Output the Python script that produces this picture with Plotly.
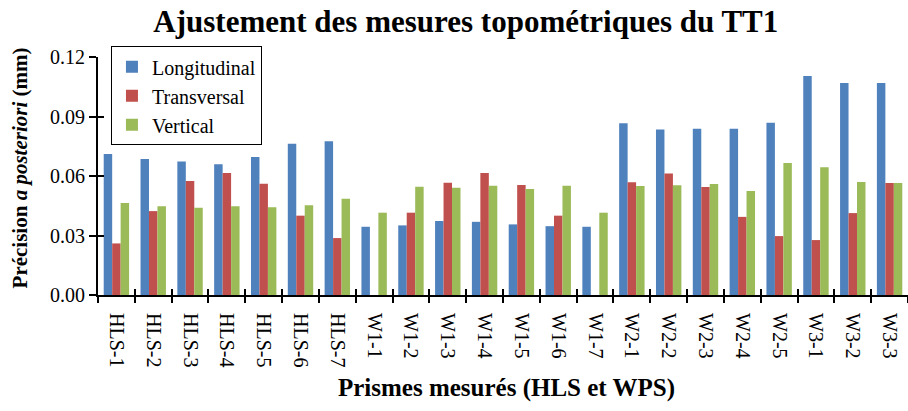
import plotly.graph_objects as go

# Prismes mesurés
categories = ["HLS-1", "HLS-2", "HLS-3", "HLS-4", "HLS-5", "HLS-6", "HLS-7",
              "W1-1", "W1-2", "W1-3", "W1-4", "W1-5", "W1-6", "W1-7",
              "W2-1", "W2-2", "W2-3", "W2-4", "W2-5",
              "W3-1", "W3-2", "W3-3"]

# Précision a posteriori (mm)
longitudinal = [0.0711, 0.0686, 0.0673, 0.0659, 0.0696, 0.0762, 0.0775,
                0.0344, 0.0351, 0.0373, 0.0369, 0.0356, 0.0347, 0.0344,
                0.0866, 0.0834, 0.0838, 0.0838, 0.0868,
                0.1104, 0.1069, 0.1069]
transversal = [0.0260, 0.0423, 0.0575, 0.0615, 0.0561, 0.0400, 0.0287,
               None, 0.0415, 0.0566, 0.0615, 0.0555, 0.0400, None,
               0.0568, 0.0612, 0.0545, 0.0394, 0.0297,
               0.0277, 0.0413, 0.0565]
vertical = [0.0464, 0.0447, 0.0440, 0.0447, 0.0442, 0.0453, 0.0485,
            0.0415, 0.0546, 0.0541, 0.0551, 0.0534, 0.0551, 0.0415,
            0.0550, 0.0553, 0.0560, 0.0524, 0.0666,
            0.0644, 0.0570, 0.0565]

y_ticks = [0.0, 0.03, 0.06, 0.09, 0.12]

SERIF = "Liberation Serif"
series = [("Longitudinal", longitudinal, "#4F81BD"),
          ("Transversal", transversal, "#C0504D"),
          ("Vertical", vertical, "#9BBB59")]

fig = go.Figure()
for name, vals, col in series:
    fig.add_trace(go.Bar(x=categories, y=vals, name=name, legendgroup=name,
                         marker=dict(color=col, line=dict(width=0))))

# invisible helper trace so the overlay axes draw the inner half of the ticks
fig.add_trace(go.Scatter(x=categories, y=[0] * len(categories), xaxis="x2", yaxis="y2",
                         mode="markers", marker=dict(opacity=0), showlegend=False,
                         hoverinfo="skip"))

fig.update_layout(
    width=908, height=411,
    margin=dict(l=98, r=0, t=57, b=116),
    paper_bgcolor="white", plot_bgcolor="white",
    font=dict(family=SERIF, size=20, color="black"),
    title=dict(text="<b>Ajustement des mesures topométriques du TT1</b>",
               font=dict(family=SERIF, size=31, color="black"),
               x=0.513, xanchor="center", y=0.948, yanchor="middle"),
    barmode="group", bargap=0.31, bargroupgap=0,
    showlegend=True,
    legend=dict(x=0.016, xanchor="left", y=1.045, yanchor="top",
                bgcolor="white", bordercolor="black", borderwidth=1,
                font=dict(family=SERIF, size=20, color="black"),
                traceorder="grouped", tracegroupgap=0),
    xaxis=dict(type="category", categoryarray=categories, range=[-0.5, len(categories) - 0.5],
               showline=True, linecolor="black", linewidth=2,
               ticks="outside", tickson="boundaries", ticklen=6, tickwidth=2, tickcolor="black",
               tickangle=90, ticklabelstandoff=12,
               tickfont=dict(family=SERIF, size=20, color="black"),
               showgrid=False, zeroline=False),
    yaxis=dict(range=[0, 0.12], tickvals=y_ticks, tickformat=".2f",
               showline=True, linecolor="black", linewidth=2,
               ticks="outside", ticklen=7, tickwidth=2, tickcolor="black",
               tickfont=dict(family=SERIF, size=20, color="black"),
               showgrid=False, zeroline=False),
    xaxis2=dict(type="category", categoryarray=categories, range=[-0.5, len(categories) - 0.5],
                overlaying="x", anchor="y2", showline=False,
                ticks="inside", tickson="boundaries", ticklen=6, tickwidth=2, tickcolor="black",
                showticklabels=False, showgrid=False, zeroline=False),
    yaxis2=dict(range=[0, 0.12], tickvals=y_ticks, overlaying="y", anchor="x2", side="left",
                ticks="inside", ticklen=6, tickwidth=2, tickcolor="black",
                showticklabels=False, showgrid=False, zeroline=False, showline=False),
    annotations=[
        dict(text="<b>Prismes mesurés (HLS et WPS)</b>", xref="paper", yref="paper",
             x=0.504, y=-0.39, xanchor="center", yanchor="middle", showarrow=False,
             font=dict(family=SERIF, size=25, color="black")),
        dict(text="<b>Précision <i>a posteriori</i> (mm)</b>", xref="paper", yref="paper",
             x=-0.0963, y=0.536, xanchor="center", yanchor="middle", textangle=-90,
             showarrow=False, font=dict(family=SERIF, size=21, color="black")),
    ],
)

fig.write_html("out.html")
